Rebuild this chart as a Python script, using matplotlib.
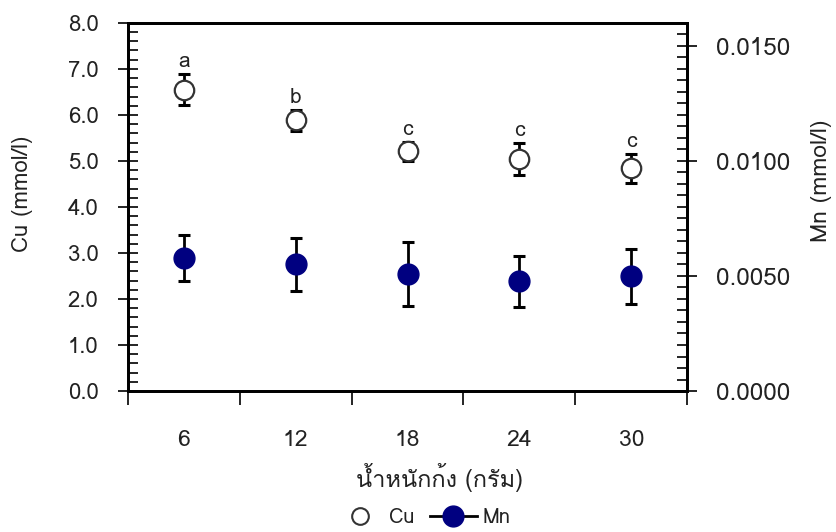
import matplotlib
matplotlib.use("Agg")
import matplotlib.pyplot as plt
from matplotlib.lines import Line2D
from matplotlib.ticker import MultipleLocator, FormatStrFormatter, FixedLocator
import numpy as np

plt.rcParams['font.family'] = ['Loma', 'Noto Sans Thai Looped', 'DejaVu Sans']

# ข้อมูล
weights = ["6", "12", "18", "24", "30"]
cu_mean = [6.55, 5.88, 5.21, 5.04, 4.84]
cu_err = [0.34, 0.23, 0.21, 0.35, 0.32]
cu_letters = ["a", "b", "c", "c", "c"]
mn_mean = [0.00578, 0.00550, 0.00508, 0.00476, 0.00498]
mn_err = [0.00100, 0.00114, 0.00140, 0.00111, 0.00121]

x = np.arange(1, len(weights) + 1)
txt = '#222222'

fig = plt.figure(figsize=(8.36, 5.32), dpi=100)
ax = fig.add_axes([0.153, 0.265, 0.669, 0.692])
ax2 = ax.twinx()

# Cu (แกนซ้าย)
ax.errorbar(x, cu_mean, yerr=cu_err, fmt='none', ecolor='black',
            elinewidth=2, capsize=4.5, capthick=2.2, zorder=2)
ax.plot(x, cu_mean, 'o', markersize=14, markerfacecolor='white',
        markeredgecolor='#333333', markeredgewidth=1.6, zorder=3)
for xi, m, e, lab in zip(x, cu_mean, cu_err, cu_letters):
    ax.annotate(lab, (xi, m + e), xytext=(0, 2), textcoords='offset points',
                ha='center', va='bottom', fontsize=15, color=txt)

# Mn (แกนขวา)
ax2.errorbar(x, mn_mean, yerr=mn_err, fmt='none', ecolor='black',
             elinewidth=2, capsize=4.5, capthick=2.2, zorder=2)
ax2.plot(x, mn_mean, 'o', markersize=15, markerfacecolor='#000080',
         markeredgecolor='#000080', zorder=3)

ax.set_xlim(0.5, 5.5)
ax.set_ylim(0, 8)
ax2.set_ylim(0, 0.016)

# แกน x
ax.xaxis.set_major_locator(FixedLocator(x))
ax.set_xticklabels(weights)
ax.xaxis.set_minor_locator(FixedLocator(np.arange(0.5, 6, 1)))
ax.tick_params(axis='x', which='major', length=0, pad=28, labelsize=16.5, labelcolor=txt)
ax.tick_params(axis='x', which='minor', direction='out', length=10, width=1.2)

# แกน y ซ้าย
ax.yaxis.set_major_locator(MultipleLocator(1))
ax.yaxis.set_minor_locator(MultipleLocator(0.2))
ax.yaxis.set_major_formatter(FormatStrFormatter('%.1f'))
ax.tick_params(axis='y', which='major', direction='inout', length=14, width=1.2,
               labelsize=16, pad=14, labelcolor=txt)
ax.tick_params(axis='y', which='minor', direction='in', length=7, width=1.2)

# แกน y ขวา
ax2.yaxis.set_major_locator(MultipleLocator(0.005))
ax2.yaxis.set_minor_locator(MultipleLocator(0.0005))
ax2.yaxis.set_major_formatter(FormatStrFormatter('%.4f'))
ax2.tick_params(axis='y', which='major', direction='inout', length=14, width=1.2,
                labelsize=17.5, pad=14, labelcolor=txt)
ax2.tick_params(axis='y', which='minor', direction='in', length=7, width=1.2)

for a in (ax, ax2):
    for s in a.spines.values():
        s.set_linewidth(2)
        s.set_color('black')

ax.set_ylabel("Cu (mmol/l)", fontsize=16, color=txt)
ax.yaxis.set_label_coords(-0.170, 0.535)
ax2.set_ylabel("Mn (mmol/l)", fontsize=16.5, color=txt)
ax2.yaxis.set_label_coords(1.222, 0.57)
ax.set_xlabel("น้ำหนักก้ง (กรัม)", fontsize=17, color=txt)
ax.xaxis.set_label_coords(0.558, -0.195)

handles = [
    Line2D([], [], linestyle='none', marker='o', markersize=12,
           markerfacecolor='white', markeredgecolor='#333333', markeredgewidth=1.5),
    Line2D([], [], color='black', linewidth=2, marker='o', markersize=15,
           markerfacecolor='#000080', markeredgecolor='#000080'),
]
fig.legend(handles, ["Cu", "Mn"], loc='center', bbox_to_anchor=(0.507, 0.027),
           ncol=2, frameon=False, fontsize=14.5, handlelength=2.3,
           columnspacing=0.75, handletextpad=0.3, labelcolor=txt)

fig.savefig("out.png", dpi=100)
